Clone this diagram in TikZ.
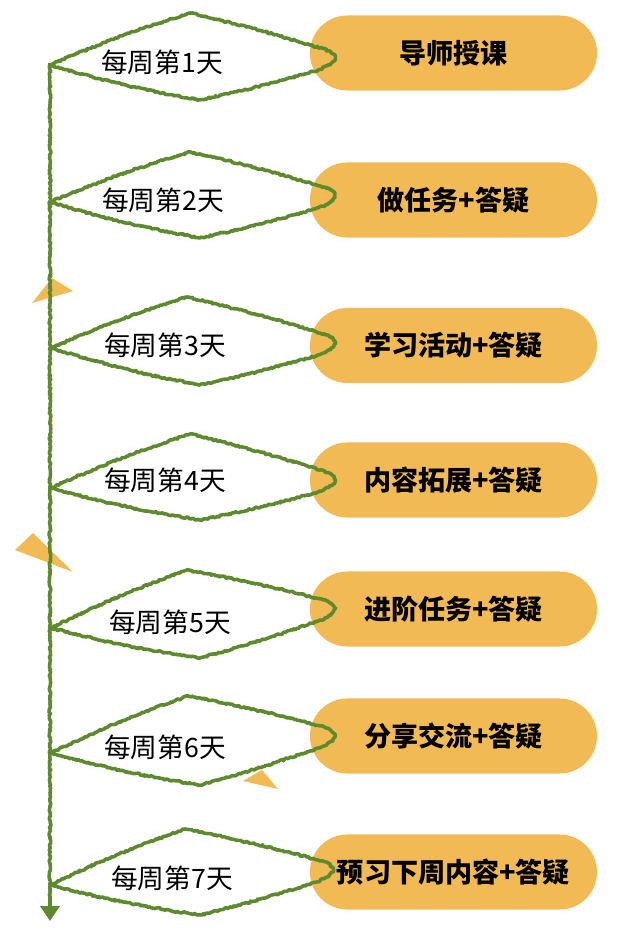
\documentclass[tikz,border=0pt]{standalone}
\usepackage{fontspec}
\setmainfont{Noto Sans CJK SC}
\usetikzlibrary{arrows.meta,decorations.pathmorphing}
\definecolor{verdeoliva}{RGB}{92,138,44}
\definecolor{ambar}{RGB}{242,186,84}
\tikzset{
  pastilla/.style={fill=ambar,rounded corners=0.375cm,minimum width=2.87cm,minimum height=0.75cm,inner sep=0pt,font=\bfseries\fontsize{7.7}{9}\selectfont},
  dia/.style={inner sep=0pt,font=\fontsize{7.6}{9}\selectfont},
  hoja/.style={draw=verdeoliva,line width=1pt,line join=round,decorate,decoration={random steps,segment length=0.45pt,amplitude=0.25pt}},
  pico/.style={fill=ambar}
}
\begin{document}
\begin{tikzpicture}[x=0.01cm,y=-0.01cm]
\useasboundingbox (0,0) rectangle (640,945);
% triangulos sueltos
\fill[pico] (32,303) -- (52,278) -- (73,291) -- cycle;
\fill[pico] (15,550) -- (33,533) -- (73,572) -- cycle;
\fill[pico] (243,781) -- (262,770) -- (278,789) -- cycle;
% pastillas
\node[pastilla] (p1) at (453.5,53) {导师授课};
\node[pastilla] (p2) at (453.5,200) {做任务+答疑};
\node[pastilla] (p3) at (453.5,345.5) {学习活动+答疑};
\node[pastilla] (p4) at (453.5,480) {内容拓展+答疑};
\node[pastilla] (p5) at (453.5,609) {进阶任务+答疑};
\node[pastilla] (p6) at (453.5,736) {分享交流+答疑};
\node[pastilla] (p7) at (453.5,872) {预习下周内容+答疑};
% hojas verdes
\draw[hoja] (50,65) to[bend left=3] (190,13) to[bend left=2] (320,48) .. controls (340,53) and (340,62) .. (318,70) to[bend left=2] (200,100) to[bend left=3] cycle;
\draw[hoja] (50,202) to[bend left=3] (190,152) to[bend left=2] (320,186) .. controls (340,191) and (340,200) .. (318,208) to[bend left=2] (200,238) to[bend left=3] cycle;
\draw[hoja] (51,348) to[bend left=3] (187,297) to[bend left=2] (320,333) .. controls (340,338) and (340,347) .. (318,355) to[bend left=2] (200,385) to[bend left=3] cycle;
\draw[hoja] (51,488) to[bend left=3] (190,434) to[bend left=2] (320,470) .. controls (340,475) and (340,484) .. (318,492) to[bend left=2] (200,520) to[bend left=3] cycle;
\draw[hoja] (51,628) to[bend left=3] (187,570) to[bend left=2] (320,599) .. controls (340,604) and (340,613) .. (318,621) to[bend left=2] (200,658) to[bend left=3] cycle;
\draw[hoja] (51,753) to[bend left=3] (188,696) to[bend left=2] (320,726) .. controls (340,731) and (340,740) .. (318,748) to[bend left=2] (200,785) to[bend left=3] cycle;
\draw[hoja] (50,885) to[bend left=3] (185,829) to[bend left=2] (318,860) .. controls (338,865) and (338,874) .. (316,882) to[bend left=2] (200,915) to[bend left=3] cycle;
% linea del tiempo
\coordinate (inicio) at (50,63);
\coordinate (fin) at (50,921);
\draw[hoja,-{Triangle[length=0.15cm,width=0.19cm]},decoration={random steps,segment length=0.45pt,amplitude=0.25pt,post length=0.25cm}] (inicio) -- (fin);
% dias
\node[dia] (d1) at (162,62) {每周第1天};
\node[dia] (d2) at (163,200) {每周第2天};
\node[dia] (d3) at (165,345) {每周第3天};
\node[dia] (d4) at (165,480) {每周第4天};
\node[dia] (d5) at (170,622) {每周第5天};
\node[dia] (d6) at (165,747) {每周第6天};
\node[dia] (d7) at (172,878) {每周第7天};
\end{tikzpicture}
\end{document}
